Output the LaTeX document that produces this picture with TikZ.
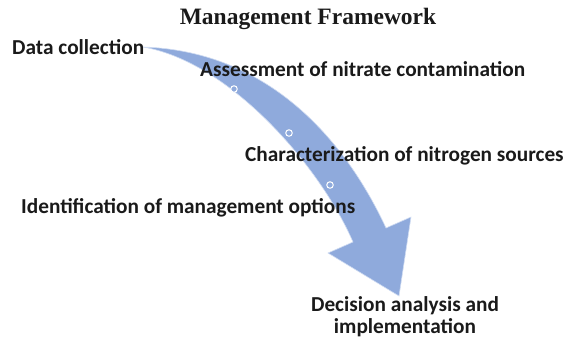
\documentclass[tikz,border=0pt]{standalone}
\usepackage{fontspec}
\setmainfont{Carlito}
\newfontfamily\titlefont{Liberation Serif}
\definecolor{arcblue}{RGB}{143,170,220}
\definecolor{arcedge}{RGB}{208,220,242}
\definecolor{labelgray}{RGB}{26,26,26}

\begin{document}
\begin{tikzpicture}
[x=1pt,y=-1pt,%
  every node/.style={inner sep=0pt,text=labelgray},%
  stage/.style={font=\fontsize{21.3}{22.5}\selectfont\bfseries},%
  waypoint/.style={circle,draw=white,line width=1pt,fill=arcblue,minimum size=6.5pt}]
\useasboundingbox (0,0) rectangle (571,341);
\coordinate (tail) at (143,47);
\fill[arcblue,draw=arcedge,line width=0.6pt]
  (tail) .. controls (273,51) and (348,146) .. (386,228)
  -- (411,217) -- (399,296) -- (328,253) -- (353,242)
  .. controls (321,168) and (231,62) .. (tail) -- cycle;
\node[waypoint] (w1) at (234,89) {};
\node[waypoint] (w2) at (289,133) {};
\node[waypoint] (w3) at (330,185) {};
\node[anchor=base,font=\titlefont\fontsize{23.5}{26}\selectfont\bfseries] (title) at (308,24) {Management Framework};
\node[stage,anchor=base west] (collect) at (12,54) {Data collection};
\node[stage,anchor=base west] (assess) at (200,76) {Assessment of nitrate contamination};
\node[stage,anchor=base west] (sources) at (245,161) {Characterization of nitrogen sources};
\node[stage,anchor=base west] (options) at (21,213) {Identification of management options};
\node[stage,anchor=north,align=center] (decide) at (405,296) {Decision analysis and\\implementation};
\end{tikzpicture}
\end{document}
